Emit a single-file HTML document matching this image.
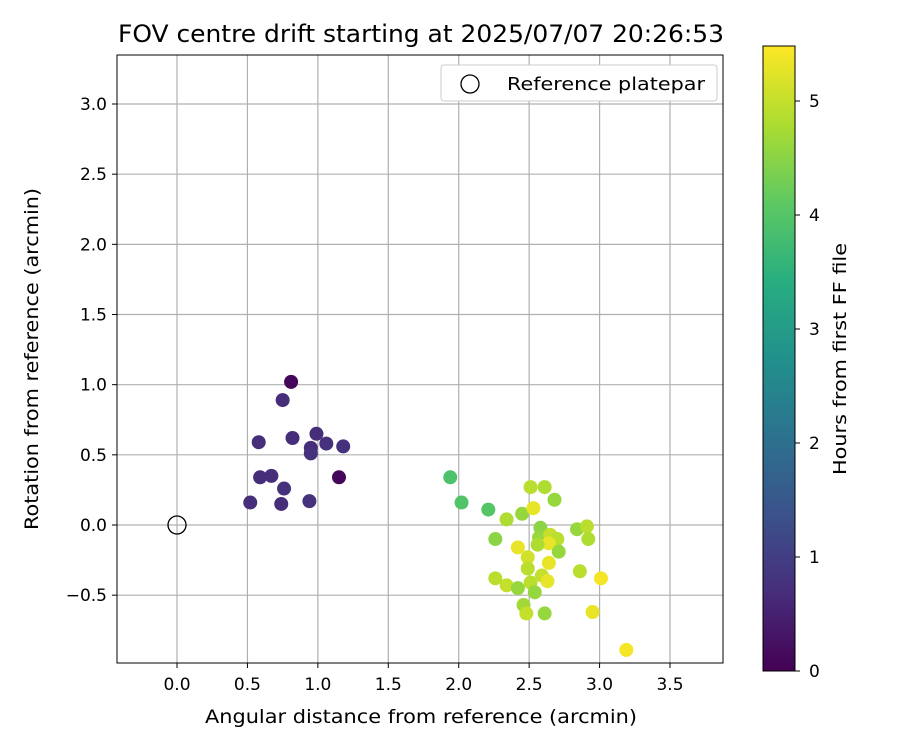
<!DOCTYPE html>
<html><head><meta charset="utf-8"><style>
body{margin:0;background:#fff;}
svg text{font-family:"DejaVu Sans","Liberation Sans",sans-serif;fill:#000;}
</style></head><body>
<svg id="chart" width="900" height="750" viewBox="0 0 900 750">
<defs>
<linearGradient id="vir" x1="0" y1="1" x2="0" y2="0">
<stop offset="0" stop-color="#440154"/><stop offset="0.125" stop-color="#472d7b"/>
<stop offset="0.25" stop-color="#3b528b"/><stop offset="0.375" stop-color="#2c728e"/>
<stop offset="0.5" stop-color="#21918c"/><stop offset="0.625" stop-color="#28ae80"/>
<stop offset="0.75" stop-color="#5ec962"/><stop offset="0.875" stop-color="#addc30"/>
<stop offset="1" stop-color="#fde725"/>
</linearGradient>
</defs>
<text x="421" y="42" font-size="24" text-anchor="middle" textLength="606" lengthAdjust="spacingAndGlyphs">FOV centre drift starting at 2025/07/07 20:26:53</text>
<g id="grid"></g>
<g id="ticks"></g>
<g id="points"></g>
<rect x="117" y="55" width="606" height="608" fill="none" stroke="#000" stroke-width="1"/>
<text x="421" y="723" font-size="19" text-anchor="middle" textLength="432" lengthAdjust="spacingAndGlyphs">Angular distance from reference (arcmin)</text>
<text transform="translate(38,359) rotate(-90)" font-size="19" text-anchor="middle" textLength="342" lengthAdjust="spacingAndGlyphs">Rotation from reference (arcmin)</text>
<g>
<rect x="441" y="65" width="276" height="36" rx="3" fill="#fff" stroke="#ccc"/>
<circle cx="470" cy="84" r="9" fill="none" stroke="#000" stroke-width="1.3"/>
<text x="507" y="90" font-size="18" textLength="198" lengthAdjust="spacingAndGlyphs">Reference platepar</text>
</g>
<circle cx="177" cy="525" r="9" fill="none" stroke="#000" stroke-width="1.3"/>
<rect x="763" y="46" width="32" height="625" fill="url(#vir)" stroke="#000" stroke-width="1"/>
<g id="cbticks"></g>
<text transform="translate(846,359) rotate(-90)" font-size="18" text-anchor="middle" textLength="232" lengthAdjust="spacingAndGlyphs">Hours from first FF file</text>
</svg>
<script>
const xTicks=[0,0.5,1,1.5,2,2.5,3,3.5];
const yTicks=[-0.5,0,0.5,1,1.5,2,2.5,3];
const cbTicks=[0,1,2,3,4,5];
const xs=[0.81,0.75,0.58,0.82,0.99,1.06,1.18,0.95,0.95,0.59,0.67,0.76,1.15,0.52,0.74,0.94,
1.94,2.02,2.21,2.34,2.45,2.53,2.51,2.61,2.68,2.26,2.58,2.57,2.65,2.70,2.64,2.56,2.71,2.42,2.49,2.64,2.49,2.84,2.91,2.92,2.86,3.01,2.26,2.34,2.42,2.51,2.59,2.63,2.54,2.46,2.48,2.61,2.95,3.19];
const ys=[1.02,0.89,0.59,0.62,0.65,0.58,0.56,0.55,0.51,0.34,0.35,0.26,0.34,0.16,0.15,0.17,
0.34,0.16,0.11,0.04,0.08,0.12,0.27,0.27,0.18,-0.10,-0.02,-0.09,-0.07,-0.10,-0.13,-0.14,-0.19,-0.16,-0.23,-0.27,-0.31,-0.03,-0.01,-0.10,-0.33,-0.38,-0.38,-0.43,-0.45,-0.41,-0.36,-0.40,-0.48,-0.57,-0.63,-0.63,-0.62,-0.89];
const hours=[0.1,0.7,0.7,0.7,0.7,0.75,0.75,0.7,0.75,0.7,0.7,0.75,0.1,0.7,0.7,0.75,
3.9,3.95,4.0,4.8,4.6,5.3,4.9,4.8,4.6,4.5,4.5,4.6,5.0,4.9,5.3,4.8,4.6,5.3,5.1,5.3,4.9,4.6,4.9,4.8,4.9,5.4,4.9,5.0,4.6,4.9,5.0,5.3,4.6,4.7,5.0,4.6,5.3,5.4];
const hMax=5.48;
const X=v=>177+v*140.86, Y=v=>525-v*140.33, CB=h=>671-h*114;
const NS="http://www.w3.org/2000/svg";
function mk(tag,attrs,parent,txt){const e=document.createElementNS(NS,tag);for(const k in attrs)e.setAttribute(k,attrs[k]);if(txt!==undefined)e.textContent=txt;parent.appendChild(e);return e;}
const stops=[[68,1,84],[71,45,123],[59,82,139],[44,114,142],[33,145,140],[40,174,128],[94,201,98],[173,220,48],[253,231,37]];
function viridis(t){t=Math.max(0,Math.min(1,t))*8;const i=Math.min(7,Math.floor(t)),f=t-i;const a=stops[i],b=stops[i+1];return `rgb(${a.map((c,k)=>Math.round(c+(b[k]-c)*f)).join(',')})`;}
const grid=document.getElementById('grid'),ticks=document.getElementById('ticks'),pts=document.getElementById('points'),cbt=document.getElementById('cbticks');
xTicks.forEach(v=>{const x=X(v);
const l=mk('line',{x1:x,x2:x,y1:55,y2:663,stroke:'#b0b0b0','stroke-width':1.2},grid);

mk('line',{x1:x,x2:x,y1:663,y2:668,stroke:'#000'},ticks);
const t=mk('text',{x:x,y:690,'font-size':17,'text-anchor':'middle'},ticks,v.toFixed(1));
});
yTicks.forEach(v=>{const y=Y(v);
const l=mk('line',{x1:117,x2:723,y1:y,y2:y,stroke:'#b0b0b0','stroke-width':1.2},grid);

mk('line',{x1:112,x2:117,y1:y,y2:y,stroke:'#000'},ticks);
const t=mk('text',{x:107,y:y+6,'font-size':17,'text-anchor':'end'},ticks,(v<0?'\u2212':'')+Math.abs(v).toFixed(1));
});
cbTicks.forEach(v=>{const y=CB(v);
mk('line',{x1:795,x2:800,y1:y,y2:y,stroke:'#000'},cbt);
const t=mk('text',{x:809,y:y+6,'font-size':17},cbt,String(v));
});
xs.forEach((v,i)=>{const c=mk('circle',{cx:X(v),cy:Y(ys[i]),r:7,fill:viridis(hours[i]/hMax)},pts);
});
</script>
</body></html>
